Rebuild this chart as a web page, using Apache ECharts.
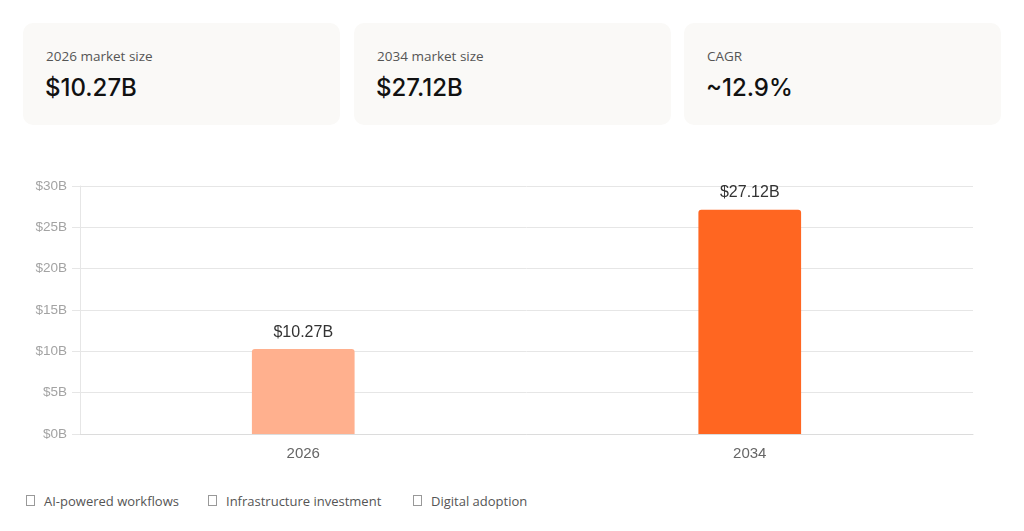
<!DOCTYPE html>
<html>
<head>
<meta charset="utf-8">
<script src="https://cdn.jsdelivr.net/npm/echarts@6/dist/echarts.min.js"></script>
<style>
  body { margin: 0; background: #fff; font-family: "Open Sans", "Noto Sans", sans-serif; }
  .cards { position: absolute; top: 23px; left: 23px; }
  .card {
    position: absolute; top: 0; width: 317px; height: 102px;
    background: #faf9f7; border-radius: 10px;
  }
  .card .lbl { position: absolute; left: 23px; top: 24px; font-size: 13.5px; color: #555; }
  .card .val { position: absolute; left: 22px; top: 50px; font-family: Inter, "Open Sans", sans-serif; font-size: 24px; font-weight: 500; color: #111; }
  #chart { position: absolute; left: 0; top: 150px; width: 1024px; height: 320px; }
  .legend { position: absolute; top: 492px; left: 26px; font-size: 13px; color: #555; }
  .legend span.item { position: absolute; white-space: nowrap; }
  .legend .box { display: inline-block; width: 7px; height: 9px; border: 1px solid #999; margin-right: 9px; vertical-align: 0px; }
</style>
</head>
<body>
<div class="cards" id="cards"></div>
<div id="chart"></div>
<div class="legend" id="legend"></div>
<script>
// KPI cards
const cardLabels = ['2026 market size', '2034 market size', 'CAGR'];
const cardValues = ['$10.27B', '$27.12B', '~12.9%'];
// bar chart
const years = ['2026', '2034'];
const marketSize = [10.27, 27.12];
const yTicks = [0, 5, 10, 15, 20, 25, 30];
// drivers list
const drivers = ['AI-powered workflows', 'Infrastructure investment', 'Digital adoption'];

const cardLeft = [0, 331, 661];
const cardsEl = document.getElementById('cards');
cardLabels.forEach((l, i) => {
  const c = document.createElement('div');
  c.className = 'card';
  c.style.left = cardLeft[i] + 'px';
  c.innerHTML = '<div class="lbl">' + l + '</div><div class="val">' + cardValues[i] + '</div>';
  cardsEl.appendChild(c);
});

const legLeft = [0, 182, 387];
const legEl = document.getElementById('legend');
drivers.forEach((d, i) => {
  const s = document.createElement('span');
  s.className = 'item';
  s.style.left = legLeft[i] + 'px';
  s.innerHTML = '<span class="box"></span>' + d;
  legEl.appendChild(s);
});

const barColors = ['#ffb08e', '#ff6621'];
const chart = echarts.init(document.getElementById('chart'));
chart.setOption({
  animation: false,
  grid: { left: 80, right: 51, top: 36, bottom: 36 },
  xAxis: {
    type: 'category',
    data: years,
    axisLine: { lineStyle: { color: '#dcdcdc' } },
    axisTick: { show: false },
    axisLabel: { color: '#666', fontSize: 15, margin: 12, fontFamily: 'Liberation Sans, Arial' }
  },
  yAxis: {
    type: 'value',
    min: yTicks[0],
    max: yTicks[yTicks.length - 1],
    interval: yTicks[1] - yTicks[0],
    axisLine: { show: true, lineStyle: { color: '#e6e6e6' } },
    axisTick: { show: true, length: 8, lineStyle: { color: '#e6e6e6' } },
    splitLine: { lineStyle: { color: '#e6e6e6' } },
    axisLabel: { color: '#a3a3a3', fontSize: 13.5, margin: 13, fontFamily: 'Liberation Sans, Arial', formatter: v => '$' + v + 'B' }
  },
  series: [{
    type: 'bar',
    barWidth: '23%',
    data: marketSize.map((v, i) => ({ value: v, itemStyle: { color: barColors[i], borderRadius: [3, 3, 0, 0] } })),
    label: {
      show: true, position: 'top', distance: 9, color: '#333', fontSize: 16,
      fontFamily: 'Liberation Sans, Arial',
      formatter: p => '$' + p.value.toFixed(2) + 'B'
    }
  }]
});
</script>
</body>
</html>
